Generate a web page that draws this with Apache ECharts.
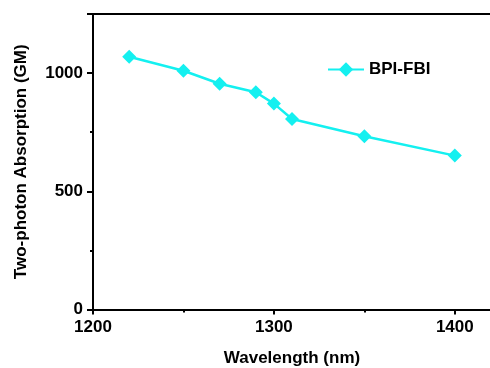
<!DOCTYPE html>
<html><head><meta charset="utf-8">
<script src="https://cdn.jsdelivr.net/npm/echarts@6/dist/echarts.min.js"></script>
<style>html,body{margin:0;padding:0;background:#fff}#c{width:490px;height:368px}</style>
</head><body><div id="c"></div>
<script>
const wavelengths = [1220, 1250, 1270, 1290, 1300, 1310, 1350, 1400];
const absorption = [1069, 1010, 955, 919, 871, 806, 733, 651];
const seriesName = 'BPI-FBI';
const xTicks = [1200, 1300, 1400];
const yTicks = [0, 500, 1000];

const font = 'Liberation Sans, Arial, sans-serif';
const chart = echarts.init(document.getElementById('c'));
chart.setOption({
  animation: false,
  grid: {left: 93, top: 14, width: 398, bottom: 58.5, containLabel: false, outerBoundsMode: 'none'},
  legend: {
    data: [seriesName], left: 322, top: 56, itemWidth: 36, itemHeight: 18, itemGap: 4,
    textStyle: {fontFamily: font, fontWeight: 'bold', fontSize: 17, color: '#000'}
  },
  xAxis: [{
    type: 'value', min: 1200, max: 1420, interval: 100,
    name: 'Wavelength (nm)', nameLocation: 'middle', nameGap: 40,
    nameTextStyle: {fontFamily: font, fontWeight: 'bold', fontSize: 17, color: '#000'},
    axisLine: {lineStyle: {color: '#000', width: 2}},
    axisTick: {length: 5, lineStyle: {color: '#000', width: 2}},
    minorTick: {show: true, splitNumber: 2, length: 3, lineStyle: {color: '#000', width: 2}},
    splitLine: {show: false},
    axisLabel: {fontFamily: font, fontWeight: 'bold', fontSize: 17, color: '#000', margin: 9,
      formatter: v => xTicks.includes(v) ? String(v) : ''}
  }, {
    type: 'value', position: 'top', min: 1200, max: 1420,
    axisLine: {show: true, lineStyle: {color: '#000', width: 2}},
    axisTick: {show: false}, axisLabel: {show: false}, splitLine: {show: false}
  }],
  yAxis: {
    type: 'value', min: 0, max: 1250, interval: 500,
    name: 'Two-photon Absorption (GM)', nameLocation: 'middle', nameGap: 63,
    nameTextStyle: {fontFamily: font, fontWeight: 'bold', fontSize: 17, color: '#000'},
    axisLine: {show: true, lineStyle: {color: '#000', width: 2}},
    axisTick: {length: 6, lineStyle: {color: '#000', width: 2}},
    minorTick: {show: true, splitNumber: 2, length: 3, lineStyle: {color: '#000', width: 2}},
    splitLine: {show: false},
    axisLabel: {fontFamily: font, fontWeight: 'bold', fontSize: 17, color: '#000', margin: 10,
      formatter: v => yTicks.includes(v) ? String(v) : ''}
  },
  series: [{
    name: seriesName, type: 'line',
    data: wavelengths.map((w, i) => [w, absorption[i]]),
    symbol: 'diamond', symbolSize: 14, showSymbol: true,
    lineStyle: {color: '#14f0f0', width: 2.5},
    itemStyle: {color: '#14f0f0'}
  }]
});
</script></body></html>
